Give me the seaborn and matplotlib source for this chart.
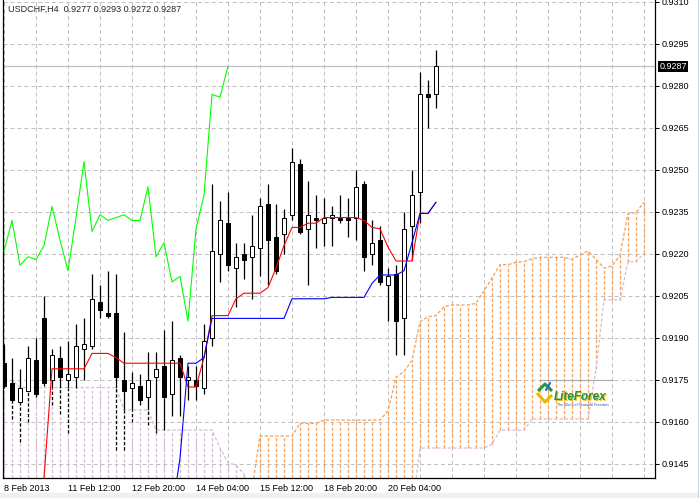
import numpy as np
import matplotlib
matplotlib.use("Agg")
import matplotlib.pyplot as plt
from matplotlib.lines import Line2D
from matplotlib.patches import Rectangle
import seaborn as sns

OUT_PATH = "out.png"

HEADER = "USDCHF,H4  0.9277 0.9293 0.9272 0.9287"
LAST_PRICE = 0.9287
DATE_BARS = [0, 8, 16, 24, 32, 40, 48]
DATE_LABELS = ["8 Feb 2013", "11 Feb 12:00", "12 Feb 20:00", "14 Feb 04:00",
               "15 Feb 12:00", "18 Feb 20:00", "20 Feb 04:00"]
PRICE_TICKS = [0.9145, 0.9160, 0.9175, 0.9190, 0.9205, 0.9220,
               0.9235, 0.9250, 0.9265, 0.9280, 0.9295, 0.9310]

# H4 candles
OPEN = [0.9181, 0.9174, 0.9167, 0.9171, 0.9182, 0.9197, 0.9175, 0.9183, 0.9175, 0.9176,
        0.9186, 0.9187, 0.9203, 0.9199, 0.9199, 0.9175, 0.9172, 0.9173, 0.9169, 0.9176,
        0.9180, 0.9170, 0.9183, 0.9175, 0.9175, 0.9172, 0.9190, 0.9220, 0.9231, 0.9215,
        0.9220, 0.9219, 0.9222, 0.9238, 0.9226, 0.9227, 0.9234, 0.9252, 0.9229, 0.9233,
        0.9231, 0.9233, 0.9233, 0.9233, 0.9233, 0.9245, 0.9220, 0.9225, 0.9209, 0.9213,
        0.9197, 0.9230, 0.9242, 0.9277, 0.9277]
HIGH = [0.9188, 0.9183, 0.9179, 0.9187, 0.9190, 0.9205, 0.9186, 0.9187, 0.9189, 0.9195,
        0.9197, 0.9213, 0.9209, 0.9214, 0.9213, 0.9192, 0.9178, 0.9177, 0.9185, 0.9185,
        0.9193, 0.9196, 0.9184, 0.9180, 0.9180, 0.9195, 0.9245, 0.9239, 0.9242, 0.9224,
        0.9224, 0.9234, 0.9240, 0.9245, 0.9238, 0.9236, 0.9258, 0.9254, 0.9246, 0.9241,
        0.9240, 0.9237, 0.9241, 0.9240, 0.9250, 0.9246, 0.9232, 0.9230, 0.9215, 0.9216,
        0.9235, 0.9250, 0.9285, 0.9282, 0.9293]
LOW = [0.9172, 0.9161, 0.9153, 0.9160, 0.9169, 0.9173, 0.9166, 0.9163, 0.9156, 0.9172,
       0.9175, 0.9186, 0.9197, 0.9197, 0.9150, 0.9150, 0.9160, 0.9166, 0.9159, 0.9156,
       0.9157, 0.9162, 0.9162, 0.9168, 0.9168, 0.9170, 0.9187, 0.9210, 0.9214, 0.9201,
       0.9211, 0.9204, 0.9212, 0.9209, 0.9213, 0.9220, 0.9232, 0.9227, 0.9209, 0.9222,
       0.9223, 0.9223, 0.9231, 0.9226, 0.9225, 0.9214, 0.9216, 0.9209, 0.9196, 0.9184,
       0.9184, 0.9218, 0.9231, 0.9265, 0.9272]
CLOSE = [0.9173, 0.9168, 0.9172, 0.9183, 0.9170, 0.9174, 0.9184, 0.9176, 0.9177, 0.9187,
         0.9188, 0.9204, 0.9200, 0.9198, 0.9176, 0.9171, 0.9174, 0.9168, 0.9175, 0.9179,
         0.9169, 0.9182, 0.9176, 0.9176, 0.9173, 0.9189, 0.9221, 0.9232, 0.9216, 0.9219,
         0.9218, 0.9223, 0.9237, 0.9225, 0.9214, 0.9233, 0.9253, 0.9228, 0.9234, 0.9232,
         0.9233, 0.9234, 0.9232, 0.9232, 0.9244, 0.9219, 0.9224, 0.9210, 0.9212, 0.9196,
         0.9229, 0.9241, 0.9277, 0.9276, 0.9287]

# Ichimoku lines (values below ~0.9140 sit off the bottom of the chart)
TENKAN = [0.9128, 0.9128, 0.9128, 0.9128, 0.9128, 0.9140, 0.9179, 0.9179, 0.9179, 0.9179,
          0.9179, 0.91845, 0.91845, 0.91845, 0.9183, 0.9181, 0.9181, 0.9181, 0.9181, 0.9181,
          0.9181, 0.9181, 0.9181, 0.91725, 0.91725, 0.9183, 0.9198, 0.9198, 0.9198, 0.9204,
          0.9206, 0.9206, 0.9206, 0.9208, 0.9215, 0.9223, 0.92295, 0.92295, 0.9231, 0.9231,
          0.9233, 0.9233, 0.9233, 0.9233, 0.9233, 0.9232, 0.92295, 0.9229, 0.92225, 0.92175,
          0.92175, 0.92175, 0.92345, 0.92345, 0.92385]
KIJUN = [0.9125, 0.9125, 0.9125, 0.9125, 0.9125, 0.9125, 0.9125, 0.9125, 0.9125, 0.9125,
         0.9125, 0.9125, 0.9125, 0.9125, 0.9125, 0.9125, 0.9125, 0.9125, 0.9125, 0.9125,
         0.9125, 0.9128, 0.9147, 0.9181, 0.9181, 0.9183, 0.9197, 0.9197, 0.9197, 0.9197,
         0.9197, 0.9197, 0.9197, 0.9197, 0.9197, 0.9197, 0.9204, 0.9204, 0.9204, 0.9204,
         0.9204, 0.92045, 0.92045, 0.92045, 0.92045, 0.92045, 0.92095, 0.92125, 0.92125, 0.92125,
         0.9214, 0.9224, 0.92345, 0.92345, 0.92385]
CHIKOU = [0.9221, 0.9232, 0.9216, 0.9219, 0.9218, 0.9223, 0.9237, 0.9225, 0.9214, 0.9233,
          0.9253, 0.9228, 0.9234, 0.9232, 0.9233, 0.9234, 0.9232, 0.9232, 0.9244, 0.9219,
          0.9224, 0.9210, 0.9212, 0.9196, 0.9229, 0.9241, 0.9277, 0.9276, 0.9287]
SPAN_A = [0.9125, 0.9125, 0.9125, 0.9125, 0.9125, 0.9125, 0.9125, 0.9125, 0.9125, 0.9125,
          0.9125, 0.9125, 0.9125, 0.9125, 0.9125, 0.9125, 0.9125, 0.9125, 0.9125, 0.9125,
          0.9125, 0.9125, 0.9125, 0.9125, 0.9125, 0.9125, 0.9125, 0.9125, 0.9125, 0.9125,
          0.9125, 0.9136, 0.9155, 0.9155, 0.9155, 0.9155, 0.9155, 0.91595, 0.91595, 0.91595,
          0.91607, 0.91607, 0.91607, 0.91607, 0.91607, 0.91607, 0.91607, 0.91607, 0.9164, 0.9176,
          0.9178, 0.9182, 0.91958, 0.91976, 0.9198, 0.92012, 0.92018, 0.92018, 0.92018, 0.92024,
          0.92068, 0.92114, 0.92162, 0.92162, 0.9217, 0.92173, 0.92183, 0.92188, 0.92188, 0.92188,
          0.92188, 0.92181, 0.92196, 0.92211, 0.92181, 0.9215, 0.92157, 0.92196, 0.92345, 0.92347,
          0.92385]
SPAN_B = [0.91748, 0.91748, 0.91723, 0.91723, 0.91723, 0.91723, 0.91723, 0.91723, 0.91723, 0.91723,
          0.91723, 0.91723, 0.91723, 0.91723, 0.91723, 0.91643, 0.91643, 0.91643, 0.91643, 0.91571,
          0.91571, 0.91571, 0.91571, 0.91571, 0.91571, 0.91571, 0.91571, 0.91507, 0.91455, 0.91446,
          0.91414, 0.9128, 0.9128, 0.9128, 0.9128, 0.9128, 0.9128, 0.9128, 0.9128, 0.9128,
          0.9128, 0.9128, 0.9128, 0.9128, 0.9128, 0.9128, 0.9128, 0.9128, 0.9128, 0.9128,
          0.9128, 0.9128, 0.91507, 0.91507, 0.91507, 0.91507, 0.91507, 0.91507, 0.91507, 0.91507,
          0.91507, 0.9152, 0.91571, 0.91571, 0.91571, 0.91571, 0.91611, 0.91611, 0.91611, 0.91611,
          0.91611, 0.91611, 0.91611, 0.91611, 0.9179, 0.92036, 0.92036, 0.92036, 0.92173, 0.92173,
          0.92202]

GRID = "#C0C0C0"
SANDY = "#F4A460"
THISTLE = "#D8BFD8"
DASH = (0, (2.4, 1.4))
GRID_DASH = (0, (2.9, 2.1))
W, H = 699, 498


def fx(px):
    return px / W


def fy(py):
    return 1 - py / H


def main():
    sns.set_style("white")
    plt.rcParams["font.family"] = ["Liberation Sans", "DejaVu Sans"]
    plt.rcParams["lines.scale_dashes"] = False

    o, h, l, c = (np.array(v) for v in (OPEN, HIGH, LOW, CLOSE))
    bars = np.arange(len(c))
    span_a, span_b = np.array(SPAN_A), np.array(SPAN_B)
    fwd = np.arange(len(span_a))

    fig = plt.figure(figsize=(W / 100, H / 100), dpi=100)
    ax = fig.add_axes([fx(3), 20 / H, 652 / W, 478 / H])
    ax.set_xlim(-0.125, 81.375)
    ax.set_ylim(0.9140, 0.931071)

    # dashed grid every 4 bars / every price tick
    for k in range(0, 81, 4):
        ax.axvline(k, color=GRID, lw=0.72, ls=GRID_DASH, zorder=0)
    for p in PRICE_TICKS:
        ax.axhline(p, color=GRID, lw=0.72, ls=GRID_DASH, zorder=0)
    ax.axhline(LAST_PRICE, color=GRID, lw=0.9, zorder=0.5)

    # kumo: histogram between the spans, then the span lines
    cloud_cols = [SANDY if a > b else THISTLE for a, b in zip(span_a, span_b)]
    ax.vlines(fwd, np.minimum(span_a, span_b), np.maximum(span_a, span_b),
              colors=cloud_cols, linestyles=[DASH], lw=0.95, zorder=1)
    sns.lineplot(x=fwd, y=span_b, ax=ax, color=THISTLE, lw=0.95, ls=DASH,
                 estimator=None, sort=False, zorder=1.5)
    sns.lineplot(x=fwd, y=span_a, ax=ax, color=SANDY, lw=0.95, ls=DASH,
                 estimator=None, sort=False, zorder=1.5)

    # candles; lower wicks that run inside the thistle cloud are drawn dashed
    body_lo = np.minimum(o, c)
    body_hi = np.maximum(o, c)
    cloud_top = np.where(span_b[:len(c)] > span_a[:len(c)], span_b[:len(c)], -1)
    ax.vlines(bars, body_hi, h, colors="black", lw=0.9, zorder=2)
    solid_lo = np.where(cloud_top > 0, np.maximum(l, np.minimum(body_lo, cloud_top)), l)
    ax.vlines(bars, solid_lo, body_lo, colors="black", lw=0.9, zorder=2)
    in_cloud = solid_lo > l
    ax.vlines(bars[in_cloud], l[in_cloud], solid_lo[in_cloud], colors="white", lw=0.9, zorder=2)
    ax.vlines(bars[in_cloud], l[in_cloud], solid_lo[in_cloud], colors="black", lw=0.9,
              linestyles=[DASH], zorder=2.1)
    faces = ["white" if cl >= op else "black" for op, cl in zip(o, c)]
    ax.bar(bars, body_hi - body_lo, bottom=body_lo, width=0.6, color=faces,
           edgecolor="black", linewidth=0.72, zorder=3)

    # tenkan / kijun / chikou
    sns.lineplot(x=bars, y=TENKAN, ax=ax, color="#FF0000", lw=0.8, estimator=None, sort=False, zorder=4)
    sns.lineplot(x=bars, y=KIJUN, ax=ax, color="#0000FF", lw=0.8, estimator=None, sort=False, zorder=4.1)
    sns.lineplot(x=np.arange(len(CHIKOU)), y=CHIKOU, ax=ax, color="#00FF00", lw=0.8,
                 estimator=None, sort=False, zorder=4)

    # axes
    ax.spines["top"].set_visible(False)
    for side in ("left", "right", "bottom"):
        ax.spines[side].set_color("black")
        ax.spines[side].set_linewidth(0.9)
    ax.yaxis.tick_right()
    ax.set_yticks(PRICE_TICKS)
    ax.set_yticklabels([f"{p:.4f}" for p in PRICE_TICKS])
    ax.set_xticks(DATE_BARS)
    ax.set_xticklabels(DATE_LABELS, ha="left")
    ax.tick_params(axis="y", length=3.2, width=0.72, pad=1.3, labelsize=6.5, colors="black")
    ax.tick_params(axis="x", length=3.0, width=0.72, pad=1.5, labelsize=6.5, colors="black")
    ax.set_xlabel("")
    ax.set_ylabel("")

    ax.annotate(f"{LAST_PRICE:.4f}", xy=(1, LAST_PRICE), xycoords=("axes fraction", "data"),
                xytext=(3, 0), textcoords="offset points", va="center", ha="left",
                fontsize=6.5, color="white",
                bbox=dict(boxstyle="square,pad=0.12", fc="black", ec="none"))

    fig.text(fx(8), fy(9.5), HEADER, fontsize=6.5, va="center", ha="left")

    # watermark logo
    fig.add_artist(Line2D([fx(540), fx(613)], [fy(380), fy(380)], color="#A8A8A8", lw=0.8))
    fig.add_artist(Line2D([fx(537), fx(545), fx(552)], [fy(393), fy(402), fy(395)],
                          color="#F0B400", lw=2.2, solid_capstyle="butt"))
    fig.add_artist(Line2D([fx(538), fx(545), fx(552)], [fy(391), fy(384), fy(391)],
                          color="#1E9A3A", lw=2.2, solid_capstyle="butt"))
    fig.add_artist(Line2D([fx(546), fx(550)], [fy(390), fy(383)], color="#2B6FD6", lw=1.6))
    fig.text(fx(554) + 0.0012, fy(397) - 0.0012, "LiteForex", fontsize=8.5, fontweight="bold",
             style="italic", color="#E8C020", va="center")
    fig.text(fx(554), fy(397), "LiteForex", fontsize=8.5, fontweight="bold",
             style="italic", color="#24953C", va="center")
    fig.text(fx(557), fy(404.5), "The World of Financial Freedom", fontsize=2.6,
             color="#2050A0", va="center")

    # window frame
    fig.add_artist(Rectangle((0, 0), 1, 5 / H, transform=fig.transFigure,
                             color="#F0F0F0", zorder=-1))
    fig.add_artist(Line2D([fx(698.5), fx(698.5)], [0, 1], color="#B9D1EA", lw=1.2))

    fig.savefig(OUT_PATH, dpi=100)
    plt.close(fig)


if __name__ == "__main__":
    main()
